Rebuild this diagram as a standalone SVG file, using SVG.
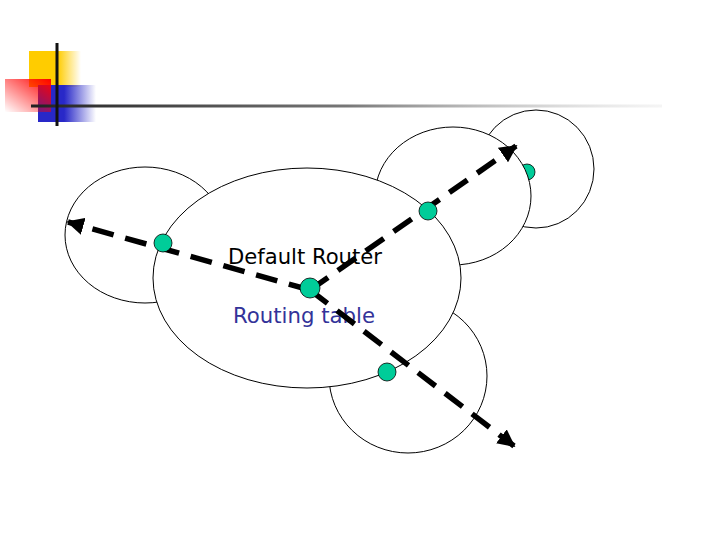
<svg xmlns="http://www.w3.org/2000/svg" width="720" height="540" viewBox="0 0 720 540">
<defs>
<linearGradient id="gy" x1="0" y1="0" x2="1" y2="0"><stop offset="0" stop-color="#ffcc00"/><stop offset="0.55" stop-color="#ffcc00"/><stop offset="1" stop-color="#ffcc00" stop-opacity="0"/></linearGradient>
<linearGradient id="gr" x1="1" y1="0" x2="0" y2="1"><stop offset="0" stop-color="#ff0000"/><stop offset="1" stop-color="#ff0000" stop-opacity="0"/></linearGradient>
<linearGradient id="gb" x1="0" y1="0" x2="1" y2="0"><stop offset="0" stop-color="#2828c8"/><stop offset="0.45" stop-color="#2828c8"/><stop offset="1" stop-color="#2828c8" stop-opacity="0"/></linearGradient>
<linearGradient id="gl" x1="0" y1="0" x2="1" y2="0"><stop offset="0" stop-color="#222"/><stop offset="0.5" stop-color="#777"/><stop offset="1" stop-color="#ddd" stop-opacity="0.3"/></linearGradient>
<marker id="ah" viewBox="0 0 10 10" refX="9" refY="5" markerWidth="3.2" markerHeight="3.2" orient="auto" markerUnits="strokeWidth"><path d="M0,0 L10,5 L0,10 z" fill="#000"/></marker>
<style>
.net{fill:#fff;stroke:#000;stroke-width:1}
.dot{fill:#00cc99;stroke:#000;stroke-width:0.8}
.lnk{stroke:#000;stroke-width:5.5;stroke-dasharray:22 12;fill:none}
.t{font-family:"DejaVu Sans",Verdana,sans-serif;font-size:21px}
</style>
</defs>
<g id="logo">
<rect x="29" y="51" width="52" height="36" fill="url(#gy)"/>
<rect x="38" y="85" width="58" height="37" fill="url(#gb)"/>
<rect x="5" y="79" width="46" height="33" fill="url(#gr)"/>
<rect x="31" y="104.5" width="631" height="3" fill="url(#gl)"/>
<line x1="57" y1="43" x2="57" y2="126" stroke="#111" stroke-width="3"/>
</g>
<g id="netB"><ellipse class="net" cx="536" cy="169" rx="58" ry="59"/><circle class="dot" cx="527" cy="172" r="8"/></g>
<g id="netA"><ellipse class="net" cx="453" cy="196" rx="78" ry="69"/></g>
<g id="netD"><ellipse class="net" cx="145" cy="235" rx="80" ry="68"/></g>
<g id="netC"><ellipse class="net" cx="408" cy="376" rx="79" ry="77"/></g>
<g id="router"><ellipse class="net" cx="307" cy="278" rx="154" ry="110"/>
<text class="t" x="228" y="264" fill="#000" textLength="154" lengthAdjust="spacingAndGlyphs">Default Router</text>
<text class="t" x="233" y="323" fill="#333399" textLength="142" lengthAdjust="spacingAndGlyphs">Routing table</text>
</g>
<g id="connectors">
<line class="lnk" x1="310" y1="290" x2="68" y2="222" marker-end="url(#ah)"/>
<line class="lnk" x1="310" y1="290" x2="516" y2="146" marker-end="url(#ah)"/>
<line class="lnk" x1="310" y1="290" x2="514" y2="446" marker-end="url(#ah)"/>
</g>
<g id="ports">
<circle class="dot" cx="163" cy="243" r="9"/>
<circle class="dot" cx="310" cy="288" r="10"/>
<circle class="dot" cx="428" cy="211" r="9"/>
<circle class="dot" cx="387" cy="372" r="9"/>
</g>
</svg>
